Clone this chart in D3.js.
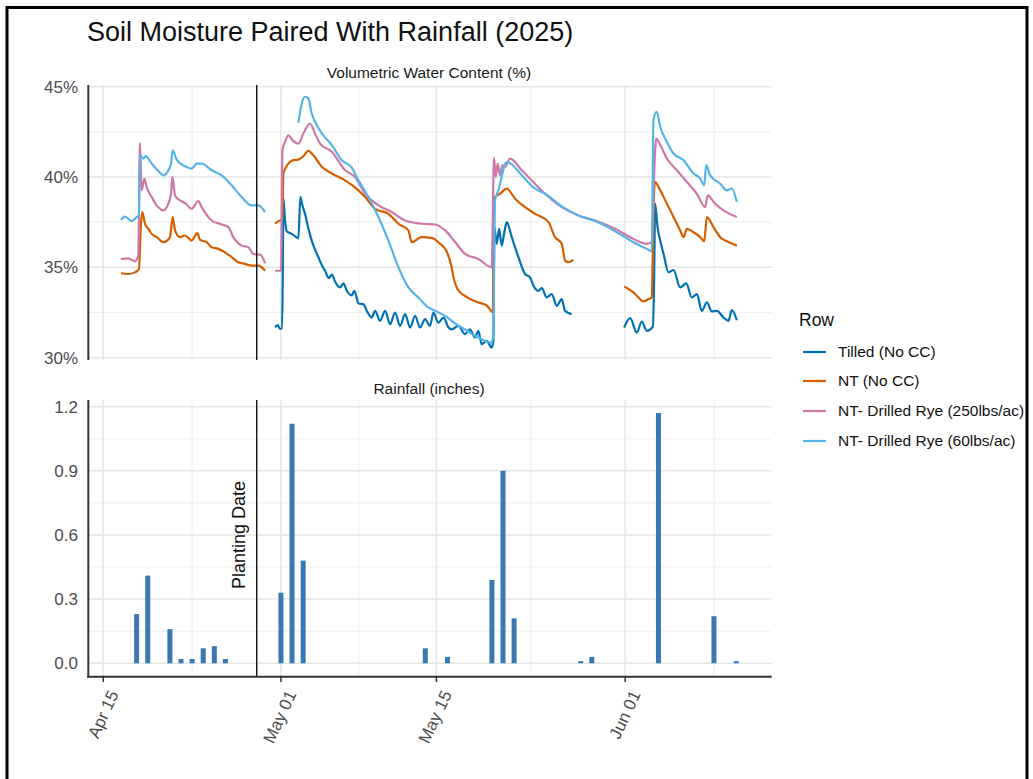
<!DOCTYPE html>
<html>
<head>
<meta charset="utf-8">
<script src="https://cdn.jsdelivr.net/npm/d3@7"></script>
<style>
  html, body { margin: 0; padding: 0; background: #fff; }
  svg { display: block; font-family: "Liberation Sans", Arial, sans-serif; }
</style>
</head>
<body>
<svg id="chart" width="1033" height="779"></svg>
<script>
// ---------------- DATA ----------------
const chartTitle = "Soil Moisture Paired With Rainfall (2025)";
const topStrip = "Volumetric Water Content (%)";
const bottomStrip = "Rainfall (inches)";
const legendTitle = "Row";
const seriesNames = ["Tilled (No CC)", "NT (No CC)", "NT- Drilled Rye (250lbs/ac)", "NT- Drilled Rye (60lbs/ac)"];
const seriesColors = ["#0072B2", "#D55E00", "#CC79A7", "#56B4E9"];

// Series: [days since 2025-04-15 00:00, VWC %]; null marks a gap in logging
const tilled = [
  [15.47,31.67],[15.7,31.8],[15.9,31.6],[16.1,31.6],[16.17,35.0],[16.22,38.8],[16.37,37.6],[16.52,37.0],
  [16.97,36.85],[17.3,36.7],[17.57,36.6],[17.75,38.9],[17.9,38.5],[18.17,37.96],[18.45,37.2],[18.77,36.48],
  [19.37,35.56],[19.7,35.1],[19.98,34.81],[20.3,34.4],[20.6,34.6],[20.88,34.2],[21.33,33.89],[21.63,34.11],
  [21.93,33.7],[22.38,33.45],[22.6,33.7],[23.0,33.0],[23.43,32.96],[23.73,32.59],[24.18,32.22],[24.48,32.59],
  [24.93,32.04],[25.38,32.59],[25.83,31.85],[26.28,32.5],[26.73,31.76],[27.18,32.41],[27.63,31.67],[28.08,32.31],
  [28.53,31.67],[28.98,32.13],[29.43,31.76],[29.73,32.5],[30.18,31.94],[30.64,32.22],[31.09,31.67],[31.38,31.57],
  [31.98,31.76],[32.58,31.3],[33.03,31.57],[33.48,31.11],[33.78,31.48],[34.08,30.74],[34.53,30.93],[34.98,30.56],
  [35.13,30.9],[35.22,37.22],[35.43,36.3],[35.65,37.13],[35.88,36.2],[36.12,36.94],[36.34,37.5],[36.79,36.67],
  [37.39,35.56],[37.99,34.63],[38.44,34.44],[38.74,33.98],[39.19,33.7],[39.49,33.85],[39.94,33.33],[40.39,33.52],
  [40.84,32.87],[41.29,33.24],[41.59,32.59],[42.19,32.41],
  null,
  [46.91,31.67],[47.45,32.19],[48.05,31.39],[48.5,32.0],[48.95,31.48],[49.49,31.7],[49.61,34.26],[49.7,38.52],
  [49.92,37.22],[50.16,36.48],[50.46,35.74],[50.91,34.72],[51.36,34.85],[51.96,33.89],[52.5,34.11],[53.01,33.33],
  [53.46,33.52],[53.91,32.59],[54.36,33.06],[54.81,32.56],[55.26,32.59],[55.86,32.22],[56.31,32.04],[56.61,32.63],
  [57.06,32.07]
];
const ntNoCC = [
  [1.59,34.67],[2.25,34.63],[2.85,34.72],[3.21,34.91],[3.39,37.4],[3.51,38.06],[3.76,37.4],[4.06,37.13],
  [4.36,36.85],[4.81,36.67],[5.41,36.39],[6.01,36.67],[6.25,37.78],[6.46,37.04],[6.91,36.67],[7.36,36.76],
  [7.96,36.48],[8.47,36.89],[8.71,36.52],[9.31,36.39],[9.76,36.11],[10.36,36.02],[10.96,35.83],[11.56,35.56],
  [12.16,35.28],[12.76,35.19],[13.36,35.09],[13.97,35.09],[14.57,34.81],
  null,
  [15.47,37.41],[15.92,37.59],[16.13,37.6],[16.22,40.19],[16.67,40.74],[17.12,40.93],[17.57,40.96],[18.02,41.15],
  [18.47,41.44],[18.92,41.2],[19.68,40.56],[20.58,40.19],[21.78,39.81],[22.98,39.26],[23.58,38.89],[24.48,38.24],
  [25.68,37.96],[26.58,37.41],[27.48,37.04],[27.78,36.39],[28.68,36.67],[29.59,36.63],[30.34,36.3],[30.9,35.9],
  [31.3,35.2],[31.6,34.3],[31.9,33.8],[32.6,33.4],[33.8,33.05],[34.5,32.9],[35.0,32.55],[35.1,32.5],
  [35.13,37.04],[35.28,38.89],[35.73,39.07],[36.34,39.35],[37.09,38.8],[37.99,38.33],[38.89,37.96],[40.09,37.5],
  [40.69,36.67],[41.29,36.3],[41.59,35.37],[41.89,35.28],[42.34,35.41],
  null,
  [46.91,33.93],[47.3,33.8],[47.75,33.61],[48.2,33.33],[48.65,33.11],[49.1,33.24],[49.4,33.33],[49.49,35.74],
  [49.61,39.26],[49.7,39.72],[50.16,39.26],[50.76,38.52],[51.36,37.78],[51.96,37.04],[52.26,36.67],[52.56,37.13],
  [53.16,36.94],[53.76,36.67],[54.12,36.44],[54.36,37.78],[54.96,37.22],[55.56,36.67],[56.16,36.44],[57.06,36.2]
];
const rye250 = [
  [1.59,35.46],[2.25,35.5],[2.85,35.33],[3.15,35.65],[3.3,41.89],[3.45,39.26],[3.7,39.91],[3.9,39.44],
  [4.36,38.89],[4.81,38.43],[5.41,38.15],[5.86,38.52],[6.1,39.07],[6.22,40.0],[6.46,38.98],[6.91,38.7],
  [7.36,38.56],[7.96,38.24],[8.56,38.67],[8.86,38.33],[9.76,37.59],[10.66,37.37],[11.26,37.22],[11.71,36.67],
  [12.46,36.2],[13.06,36.11],[13.51,35.74],[14.12,35.7],[14.42,35.46],[14.57,35.22],
  null,
  [15.47,34.81],[16.01,34.81],[16.13,41.48],[16.37,41.94],[16.67,42.31],[17.03,42.04],[17.57,41.85],[18.02,42.41],
  [18.62,42.96],[19.07,42.41],[19.52,41.85],[20.58,41.39],[21.78,40.37],[22.68,40.0],[23.58,39.07],[24.78,38.43],
  [25.98,38.06],[27.18,37.59],[28.68,37.41],[29.89,37.37],[30.79,37.04],[31.69,36.4],[32.58,35.74],[33.78,35.46],
  [34.98,35.0],[35.19,41.07],[35.34,40.0],[35.52,40.74],[35.73,40.09],[35.95,40.65],[36.19,40.56],[36.64,41.02],
  [37.69,40.37],[38.59,39.81],[39.79,39.07],[41.29,38.33],[42.79,37.87],[44.29,37.59],[46.1,37.13],[47.75,36.57],
  [48.95,36.3],[49.4,36.39],[49.61,40.19],[49.8,42.13],[50.1,41.85],[50.76,41.02],[51.66,40.37],[52.56,39.72],
  [53.46,39.07],[54.21,38.33],[54.42,38.98],[55.11,38.52],[55.86,38.15],[57.06,37.78]
];
const rye60 = [
  [1.59,37.63],[1.95,37.81],[2.55,37.56],[3.0,37.78],[3.21,37.87],[3.3,41.2],[3.6,41.02],[3.82,41.15],
  [4.36,40.74],[4.96,40.33],[5.41,40.09],[5.86,40.37],[6.1,40.74],[6.25,41.48],[6.61,40.96],[7.36,40.59],
  [7.96,40.46],[8.41,40.74],[8.86,40.74],[9.76,40.37],[10.66,40.09],[11.56,39.54],[12.46,38.89],[13.36,38.43],
  [13.97,38.43],[14.57,38.06],
  null,
  [17.57,43.0],[17.87,44.07],[18.17,44.44],[18.47,44.35],[18.77,43.52],[19.07,43.06],[19.68,42.41],[20.58,41.76],
  [21.48,40.93],[22.38,40.52],[22.98,39.81],[23.88,38.89],[24.78,37.78],[25.68,36.48],[26.58,35.0],[27.48,33.89],
  [28.38,33.33],[29.28,32.78],[29.89,32.59],[30.79,32.31],[31.69,31.89],[32.28,31.67],[33.78,31.11],[34.98,30.83],
  [35.13,31.3],[35.28,38.7],[35.58,39.26],[36.34,40.83],[36.79,40.7],[37.69,40.09],[38.89,39.35],[39.79,39.07],
  [41.29,38.37],[42.79,37.87],[44.29,37.56],[46.1,37.0],[47.75,36.39],[48.95,36.02],[49.4,35.89],[49.55,43.15],
  [49.85,43.61],[50.16,42.78],[50.76,41.94],[51.36,41.3],[52.26,40.93],[53.16,40.19],[53.76,39.91],[54.12,39.54],
  [54.3,40.65],[54.66,40.09],[55.56,39.63],[56.16,39.26],[56.61,39.35],[57.06,38.61]
];
const allSeries = [tilled, ntNoCC, rye250, rye60];

// Rainfall (daily totals)
const rainDates = ["2025-04-18","2025-04-19","2025-04-21","2025-04-22","2025-04-23","2025-04-24","2025-04-25","2025-04-26",
  "2025-05-01","2025-05-02","2025-05-03","2025-05-14","2025-05-16","2025-05-20","2025-05-21","2025-05-22",
  "2025-05-28","2025-05-29","2025-06-04","2025-06-09","2025-06-11"];
const rainInches = [0.23,0.41,0.16,0.02,0.02,0.07,0.08,0.02,
  0.33,1.12,0.48,0.07,0.03,0.39,0.90,0.21,
  0.01,0.03,1.17,0.22,0.01];

// Axis ticks and reference line
const xMajorTicks = ["2025-04-15 00:00","2025-05-01 00:00","2025-05-15 00:00","2025-06-01 00:00"];
const xMinorTicks = ["2025-04-23 00:00","2025-05-08 00:00","2025-05-23 12:00","2025-06-09 00:00"];
const vwcMajorTicks = [30, 35, 40, 45];
const vwcMinorTicks = [32.5, 37.5, 42.5];
const rainMajorTicks = [0, 0.3, 0.6, 0.9, 1.2];
const rainMinorTicks = [0.15, 0.45, 0.75, 1.05];
const plantingDate = "2025-04-28 19:40";
const plantingLabel = "Planting Date";

// ---------------- DRAW ----------------
const svg = d3.select("#chart");
const base = Date.UTC(2025, 3, 15);
const dayToDate = t => new Date(base + t * 864e5);
const parseT = d3.utcParse("%Y-%m-%d %H:%M");
const parseD = d3.utcParse("%Y-%m-%d");

const x = d3.scaleUtc().domain([dayToDate(-1.35), dayToDate(60.2)]).range([88.3, 771.7]);
const yTop = d3.scaleLinear().domain([29.87, 45.09]).range([360, 85]);
const yBot = d3.scaleLinear().domain([-0.0627, 1.231]).range([676.7, 400]);

svg.append("rect").attr("width", 1033).attr("height", 779).attr("fill", "#fff");

const gridMajor = "#e6e6e6", gridMinor = "#f0f0f0";

function panelGrid(y, yMaj, yMin, top, bottom) {
  const g = svg.append("g");
  g.selectAll(".hmin").data(yMin).join("line")
    .attr("x1", x.range()[0]).attr("x2", x.range()[1])
    .attr("y1", d => y(d)).attr("y2", d => y(d))
    .attr("stroke", gridMinor).attr("stroke-width", 1.1);
  g.selectAll(".vmin").data(xMinorTicks).join("line")
    .attr("x1", d => x(parseT(d))).attr("x2", d => x(parseT(d)))
    .attr("y1", top).attr("y2", bottom)
    .attr("stroke", gridMinor).attr("stroke-width", 1.1);
  g.selectAll(".hmaj").data(yMaj).join("line")
    .attr("x1", x.range()[0]).attr("x2", x.range()[1])
    .attr("y1", d => y(d)).attr("y2", d => y(d))
    .attr("stroke", gridMajor).attr("stroke-width", 1.5);
  g.selectAll(".vmaj").data(xMajorTicks).join("line")
    .attr("x1", d => x(parseT(d))).attr("x2", d => x(parseT(d)))
    .attr("y1", top).attr("y2", bottom)
    .attr("stroke", gridMajor).attr("stroke-width", 1.5);
}
panelGrid(yTop, vwcMajorTicks, vwcMinorTicks, 85, 360);
panelGrid(yBot, rainMajorTicks, rainMinorTicks, 400, 676.7);

// Title and strips
svg.append("text").attr("x", 87).attr("y", 41).attr("font-size", 27).attr("fill", "#111").text(chartTitle);
svg.append("text").attr("x", 429).attr("y", 78).attr("text-anchor", "middle").attr("font-size", 15.5).attr("fill", "#1a1a1a").text(topStrip);
svg.append("text").attr("x", 429).attr("y", 394).attr("text-anchor", "middle").attr("font-size", 15.5).attr("fill", "#1a1a1a").text(bottomStrip);

// Lines
const line = d3.line().defined(d => d !== null).curve(d3.curveMonotoneX)
  .x(d => x(dayToDate(d[0]))).y(d => yTop(d[1]));
allSeries.forEach((s, i) => {
  svg.append("path").datum(s).attr("d", line)
    .attr("fill", "none").attr("stroke", seriesColors[i])
    .attr("stroke-width", 2.2).attr("stroke-linejoin", "round");
});

// Bars
const barW = x(dayToDate(0.45)) - x(dayToDate(0));
svg.append("g").selectAll("rect").data(rainDates).join("rect")
  .attr("x", d => x(parseD(d)) - barW / 2)
  .attr("width", barW)
  .attr("y", (d, i) => yBot(rainInches[i]))
  .attr("height", (d, i) => yBot(0) - yBot(rainInches[i]))
  .attr("fill", "#3a78b2");

// Planting line
const px = x(parseT(plantingDate));
[[85, 360], [400, 676.7]].forEach(([a, b]) => {
  svg.append("line").attr("x1", px).attr("x2", px).attr("y1", a).attr("y2", b)
    .attr("stroke", "#111").attr("stroke-width", 1.4);
});
svg.append("text").attr("transform", `translate(${px - 12},${yBot(0.6)}) rotate(-90)`)
  .attr("text-anchor", "middle").attr("font-size", 18).attr("fill", "#111").text(plantingLabel);

// Axes lines
const axisCol = "#333";
svg.append("line").attr("x1", 88.3).attr("x2", 88.3).attr("y1", 85).attr("y2", 360).attr("stroke", axisCol).attr("stroke-width", 2);
svg.append("line").attr("x1", 88.3).attr("x2", 88.3).attr("y1", 400).attr("y2", 677.7).attr("stroke", axisCol).attr("stroke-width", 2);
svg.append("line").attr("x1", 87.3).attr("x2", 771.7).attr("y1", 676.7).attr("y2", 676.7).attr("stroke", axisCol).attr("stroke-width", 2);

// Y tick labels
const tickCol = "#4d4d4d";
svg.append("g").selectAll("text").data(vwcMajorTicks).join("text")
  .attr("x", 78).attr("y", d => yTop(d)).attr("dy", "0.35em").attr("text-anchor", "end")
  .attr("font-size", 17).attr("fill", tickCol).text(d => d + "%");
svg.append("g").selectAll("text").data(rainMajorTicks).join("text")
  .attr("x", 78).attr("y", d => yBot(d)).attr("dy", "0.35em").attr("text-anchor", "end")
  .attr("font-size", 17).attr("fill", tickCol).text(d => d.toFixed(1));

// X ticks + labels
const fmt = d3.utcFormat("%b %d");
svg.append("g").selectAll("line").data(xMajorTicks).join("line")
  .attr("x1", d => x(parseT(d))).attr("x2", d => x(parseT(d)))
  .attr("y1", 677).attr("y2", 682).attr("stroke", axisCol).attr("stroke-width", 1.5);
svg.append("g").selectAll("text").data(xMajorTicks).join("text")
  .attr("transform", d => `translate(${x(parseT(d)) + 5},${689}) rotate(-65)`)
  .attr("text-anchor", "end").attr("dy", "0.7em")
  .attr("font-size", 17).attr("fill", tickCol).text(d => fmt(parseT(d)));

// Legend
svg.append("text").attr("x", 799).attr("y", 326).attr("font-size", 17.5).attr("fill", "#111").text(legendTitle);
const legY = [352, 381, 411, 441];
seriesNames.forEach((n, i) => {
  svg.append("line").attr("x1", 803).attr("x2", 826).attr("y1", legY[i]).attr("y2", legY[i])
    .attr("stroke", seriesColors[i]).attr("stroke-width", 2.2);
  svg.append("text").attr("x", 838).attr("y", legY[i]).attr("dy", "0.35em")
    .attr("font-size", 15.5).attr("fill", "#111").text(n);
});

// Outer frame
svg.append("rect").attr("x", 7).attr("y", 7.5).attr("width", 1020).attr("height", 800)
  .attr("fill", "none").attr("stroke", "#000").attr("stroke-width", 3);
</script>
</body>
</html>
